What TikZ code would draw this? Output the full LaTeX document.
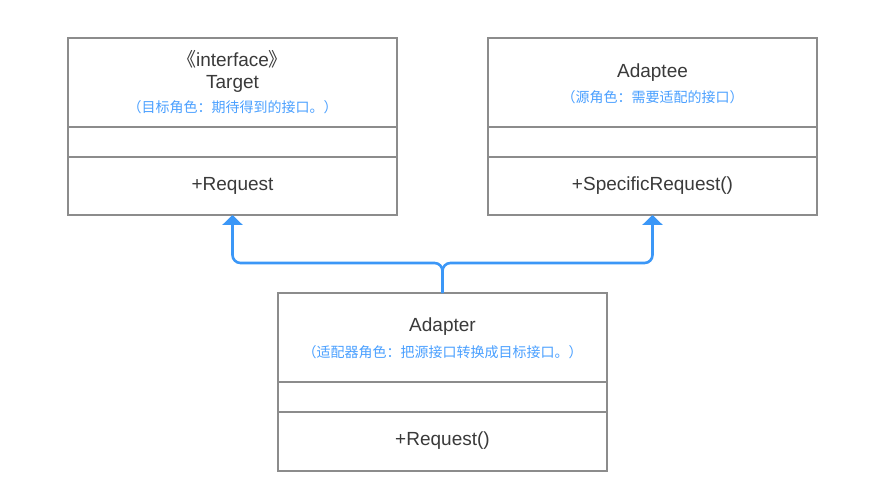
\documentclass[tikz,border=0pt]{standalone}
\usepackage{fontspec}
\setmainfont{Liberation Sans}
\newfontfamily\cjk{Noto Sans CJK SC}
\usetikzlibrary{arrows.meta}
\definecolor{edgegray}{HTML}{8C8C8C}
\definecolor{inkgray}{HTML}{3A3A3A}
\definecolor{notebl}{HTML}{4AA0FF}
\definecolor{linkbl}{HTML}{3B97F7}
\tikzset{
  compart/.style={draw=edgegray, line width=1.4pt, anchor=north west, inner sep=0pt, outer sep=0pt},
  sepline/.style={draw=edgegray, line width=2.4pt},
  label/.style={text=inkgray, font=\fontsize{19}{22}\selectfont, inner sep=0pt},
  note/.style={text=notebl, font=\cjk\fontsize{14}{16}\selectfont, inner sep=0pt},
  link/.style={draw=linkbl, line width=2.6pt, rounded corners=8pt,
    -{Triangle[width=20pt,length=10pt]}}
}
\begin{document}
\begin{tikzpicture}[x=1pt, y=-1pt]
\useasboundingbox[fill=white] (0,0) rectangle (886,489);

% Target class
\node[compart, minimum width=329pt, minimum height=89pt] (tgtHead) at (68,38) {};
\node[compart, minimum width=329pt, minimum height=30pt] (tgtAttr) at (68,127) {};
\node[compart, minimum width=329pt, minimum height=58pt] (tgtOps) at (68,157) {};
\draw[sepline] (tgtAttr.north west) -- (tgtAttr.north east);
\draw[sepline] (tgtOps.north west) -- (tgtOps.north east);
\node[label] (tgtStereo) at (232.5,59) {{\cjk 《}interface{\cjk 》}};
\node[label] (tgtName) at (232.5,84) {Target};
\node[note] (tgtNote) at (232.5,107) {（目标角色：期待得到的接口。）};
\node[label] (tgtOp) at (232.5,186) {+Request};

% Adaptee class
\node[compart, minimum width=329pt, minimum height=89pt] (adeHead) at (488,38) {};
\node[compart, minimum width=329pt, minimum height=30pt] (adeAttr) at (488,127) {};
\node[compart, minimum width=329pt, minimum height=58pt] (adeOps) at (488,157) {};
\draw[sepline] (adeAttr.north west) -- (adeAttr.north east);
\draw[sepline] (adeOps.north west) -- (adeOps.north east);
\node[label] (adeName) at (652.5,73) {Adaptee};
\node[note] (adeNote) at (652.5,97) {（源角色：需要适配的接口）};
\node[label] (adeOp) at (652.5,186) {+SpecificRequest()};

% Adapter class
\node[compart, minimum width=329pt, minimum height=89pt] (adHead) at (278,293) {};
\node[compart, minimum width=329pt, minimum height=30pt] (adAttr) at (278,382) {};
\node[compart, minimum width=329pt, minimum height=59pt] (adOps) at (278,412) {};
\draw[sepline] (adAttr.north west) -- (adAttr.north east);
\draw[sepline] (adOps.north west) -- (adOps.north east);
\node[label] (adName) at (442.5,327) {Adapter};
\node[note] (adNote) at (442.5,352) {（适配器角色：把源接口转换成目标接口。）};
\node[label] (adOp) at (442.5,441) {+Request()};

% Realization / inheritance connectors
\coordinate (fork) at (442.5,263);
\draw[link] (adHead.north) -- (fork) -| (tgtOps.south);
\draw[link] (adHead.north) -- (fork) -| (adeOps.south);
\end{tikzpicture}
\end{document}
